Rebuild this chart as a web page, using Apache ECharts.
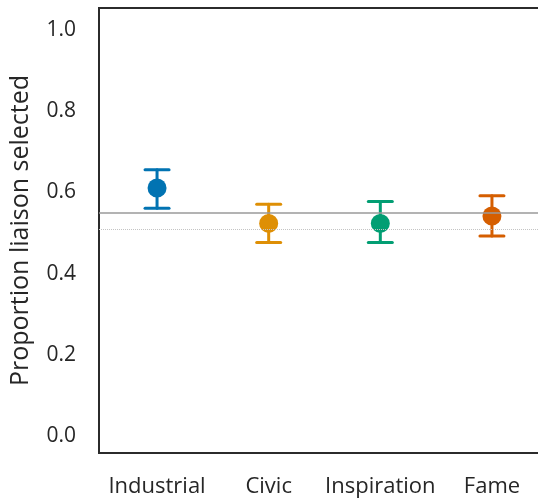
<!DOCTYPE html>
<html>
<head>
<meta charset="utf-8">
<script src="https://cdn.jsdelivr.net/npm/echarts@6/dist/echarts.min.js"></script>
<style>html,body{margin:0;padding:0;background:#fff;overflow:hidden;width:538px;height:499px;}#c{width:551px;height:499px;}</style>
</head>
<body>
<div id="c"></div>
<script>
const categories = ['Industrial', 'Civic', 'Inspiration', 'Fame'];
const means = [0.611, 0.524, 0.524, 0.542];
const lowers = [0.561, 0.477, 0.477, 0.493];
const uppers = [0.656, 0.571, 0.578, 0.592];
const colors = ['#0173B2', '#DE8F05', '#029E73', '#D55E00'];
const yTicks = [0.0, 0.2, 0.4, 0.6, 0.8, 1.0];
const overallMean = 0.551;
const chanceLevel = 0.505;
const yTitle = 'Proportion liaison selected';

const FONT = '"Open Sans", "Noto Sans", sans-serif';

const pointData = categories.map((c, i) => ({
  value: [i, means[i]],
  itemStyle: { color: colors[i], opacity: 1 }
}));
const errData = categories.map((c, i) => ({ value: [i, lowers[i], uppers[i]] }));

const chart = echarts.init(document.getElementById('c'), null, { renderer: 'canvas' });
chart.setOption({
  animation: false,
  backgroundColor: '#ffffff',
  grid: {
    left: 99, top: 8, bottom: 46, right: 1,
    show: true, borderColor: '#2b2b2b', borderWidth: 2, backgroundColor: 'transparent'
  },
  xAxis: {
    type: 'value',
    min: -0.52, max: 3.52,
    axisLine: { show: false },
    axisTick: { show: false },
    splitLine: { show: false },
    axisLabel: {
      customValues: categories.map((c, i) => i),
      formatter: v => categories[Math.round(v)] || '',
      color: '#262626', fontSize: 22, fontFamily: FONT, margin: 23
    }
  },
  yAxis: {
    type: 'value',
    min: -0.041, max: 1.054,
    axisLine: { show: false },
    axisTick: { show: false },
    splitLine: { show: false },
    axisLabel: {
      customValues: yTicks,
      formatter: v => v.toFixed(1),
      color: '#262626', fontSize: 21, fontFamily: FONT, margin: 23
    },
    name: yTitle,
    nameLocation: 'middle',
    nameGap: 66,
    nameTextStyle: { color: '#262626', fontSize: 25, fontFamily: FONT }
  },
  series: [
    {
      type: 'line',
      data: [],
      markLine: {
        silent: true,
        symbol: 'none',
        label: { show: false },
        data: [
          { yAxis: overallMean, lineStyle: { color: '#9a9a9a', width: 1.5, type: 'solid' } },
          { yAxis: chanceLevel, lineStyle: { color: '#c4c4c4', width: 1, type: [1, 1] } }
        ]
      }
    },
    {
      type: 'custom',
      data: errData,
      z: 3,
      renderItem: function (params, api) {
        const x = api.value(0);
        const lo = api.coord([x, api.value(1)]);
        const hi = api.coord([x, api.value(2)]);
        const hw = 12;
        const st = { stroke: colors[params.dataIndex], lineWidth: 3, lineCap: 'round' };
        return {
          type: 'group',
          children: [
            { type: 'line', shape: { x1: lo[0], y1: lo[1], x2: hi[0], y2: hi[1] }, style: st },
            { type: 'line', shape: { x1: lo[0] - hw, y1: lo[1], x2: lo[0] + hw, y2: lo[1] }, style: st },
            { type: 'line', shape: { x1: hi[0] - hw, y1: hi[1], x2: hi[0] + hw, y2: hi[1] }, style: st }
          ]
        };
      }
    },
    {
      type: 'scatter',
      data: pointData,
      symbol: 'circle',
      symbolSize: 19,
      z: 4
    }
  ]
});
</script>
</body>
</html>
